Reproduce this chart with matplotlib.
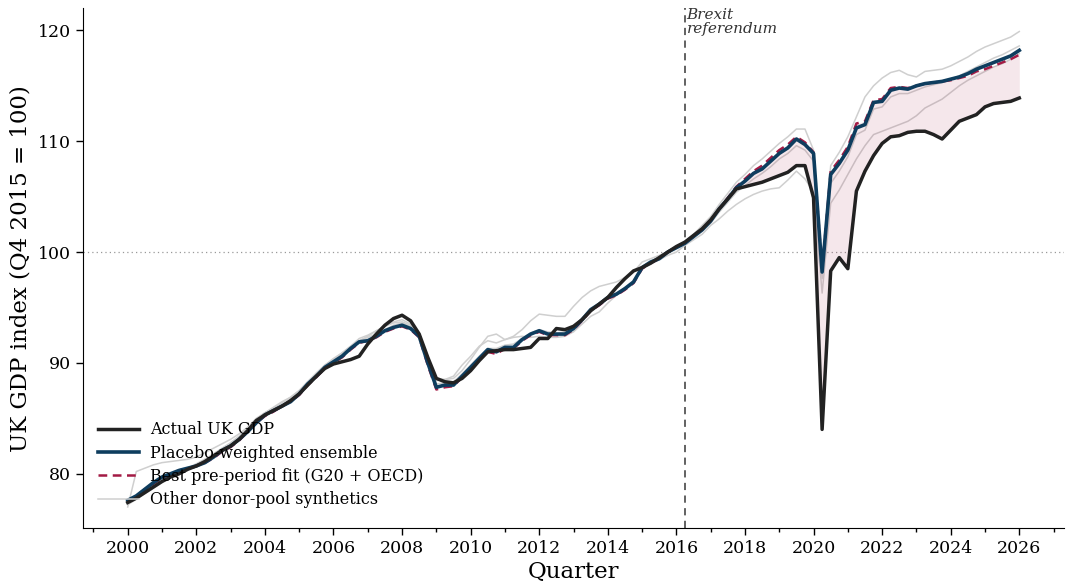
import numpy as np
import matplotlib
matplotlib.use("Agg")
import matplotlib.pyplot as plt
from matplotlib.ticker import MultipleLocator

plt.rcParams["font.family"] = ["DejaVu Serif"]

# quarterly index, Q1 2000 .. Q1 2026
start_year = 2000
brexit_q = 2016.25

actual_uk = [
    77.4, 77.8, 78.3, 78.8, 79.3, 79.7, 80.0, 80.4, 80.7, 81.1, 81.6, 82.1,
    82.5, 83.1, 83.9, 84.8, 85.3, 85.7, 86.1, 86.6, 87.2, 88.0, 88.8, 89.5,
    89.9, 90.1, 90.3, 90.6, 91.7, 92.6, 93.4, 94.0, 94.3, 93.8, 92.6, 90.5,
    88.6, 88.3, 88.2, 88.6, 89.3, 90.2, 91.0, 91.1, 91.2, 91.2, 91.3, 91.4,
    92.2, 92.2, 93.1, 93.0, 93.3, 93.9, 94.7, 95.3, 95.9, 96.8, 97.6, 98.3,
    98.6, 99.0, 99.5, 100.0, 100.5, 100.9, 101.5, 102.1, 102.9, 103.9, 104.8, 105.7,
    105.9, 106.1, 106.3, 106.6, 106.9, 107.2, 107.8, 107.8, 104.9, 84.0, 98.3, 99.5,
    98.5, 105.5, 107.3, 108.7, 109.8, 110.4, 110.5, 110.8, 110.9, 110.9, 110.6, 110.2,
    111.0, 111.8, 112.1, 112.4, 113.1, 113.4, 113.5, 113.6, 113.9,
]

ensemble = [
    77.6, 78.0, 78.6, 79.2, 79.7, 80.0, 80.3, 80.5, 80.7, 81.0, 81.5, 82.1,
    82.5, 83.1, 83.8, 84.6, 85.3, 85.7, 86.1, 86.5, 87.2, 88.1, 88.8, 89.6,
    90.1, 90.6, 91.3, 91.9, 92.0, 92.4, 92.9, 93.2, 93.4, 93.1, 92.4, 90.0,
    87.8, 88.0, 88.0, 88.8, 89.6, 90.4, 91.2, 91.0, 91.4, 91.4, 92.1, 92.6,
    92.9, 92.6, 92.6, 92.6, 93.1, 93.9, 94.8, 95.3, 95.9, 96.2, 96.7, 97.3,
    98.6, 99.1, 99.4, 100.0, 100.4, 100.8, 101.4, 102.0, 102.8, 103.9, 104.8, 105.8,
    106.4, 107.1, 107.5, 108.2, 108.9, 109.4, 110.2, 109.7, 108.9, 98.2, 107.0, 108.0,
    109.2, 111.2, 111.5, 113.5, 113.6, 114.6, 114.8, 114.7, 115.0, 115.2, 115.3, 115.4,
    115.6, 115.8, 116.1, 116.5, 116.8, 117.1, 117.4, 117.7, 118.2,
]

best_fit = [
    77.5, 78.0, 78.6, 79.1, 79.6, 80.0, 80.3, 80.5, 80.7, 81.0, 81.4, 82.0,
    82.4, 83.0, 83.8, 84.6, 85.2, 85.6, 86.1, 86.5, 87.1, 88.0, 88.7, 89.5,
    90.0, 90.5, 91.2, 91.8, 92.0, 92.3, 92.8, 93.1, 93.3, 93.0, 92.3, 89.8,
    87.6, 87.8, 87.9, 88.7, 89.5, 90.3, 91.0, 90.8, 91.3, 91.3, 92.0, 92.5,
    92.8, 92.5, 92.5, 92.5, 93.0, 93.8, 94.7, 95.2, 95.8, 96.1, 96.6, 97.2,
    98.5, 99.0, 99.4, 100.0, 100.4, 100.8, 101.4, 102.0, 102.8, 103.9, 104.9, 105.9,
    106.6, 107.3, 107.8, 108.5, 109.2, 109.7, 110.4, 109.9, 109.0, 98.4, 107.3, 108.3,
    109.5, 111.6, 111.8, 113.7, 113.8, 114.8, 114.9, 114.8, 115.0, 115.2, 115.3, 115.4,
    115.5, 115.7, 115.9, 116.3, 116.5, 116.8, 117.1, 117.4, 117.8,
]

donor_high = [
    77.0, 80.2, 80.5, 80.8, 81.0, 81.1, 81.2, 81.3, 81.5, 81.9, 82.3, 82.7,
    83.1, 83.6, 84.2, 84.9, 85.5, 86.0, 86.5, 86.9, 87.5, 88.3, 89.1, 89.8,
    90.4, 90.9, 91.5, 92.0, 92.4, 92.9, 93.3, 93.6, 93.7, 93.4, 92.6, 90.3,
    88.6, 88.5, 88.6, 89.3, 90.3, 91.4, 92.4, 92.6, 92.1, 92.4, 93.0, 93.8,
    94.4, 94.3, 94.2, 94.2, 95.1, 95.9, 96.5, 96.9, 97.1, 97.3, 97.7, 98.2,
    99.1, 99.4, 99.7, 100.0, 100.5, 100.9, 101.6, 102.4, 103.2, 104.3, 105.3, 106.3,
    107.0, 107.8, 108.4, 109.1, 109.8, 110.4, 111.1, 111.1, 109.2, 98.6, 107.8, 109.0,
    110.4, 112.2, 114.0, 115.0, 115.7, 116.2, 116.4, 116.0, 115.8, 116.3, 116.4, 116.5,
    116.8, 117.2, 117.6, 118.1, 118.5, 118.8, 119.1, 119.4, 119.9,
]

donor_low = [
    77.2, 77.7, 78.2, 78.7, 79.2, 79.7, 80.0, 80.4, 80.8, 81.3, 81.8, 82.3,
    82.8, 83.4, 84.2, 85.0, 85.5, 85.9, 86.4, 86.9, 87.5, 88.3, 89.0, 89.8,
    90.3, 90.9, 91.5, 92.2, 92.5, 92.9, 93.3, 93.7, 93.9, 93.5, 92.7, 90.6,
    88.4, 88.5, 88.8, 89.8, 90.6, 91.5, 92.0, 91.8, 92.1, 92.3, 92.4, 92.3,
    92.4, 92.3, 92.3, 92.4, 92.8, 93.5, 94.2, 94.6, 95.4, 96.1, 96.6, 97.3,
    98.5, 98.9, 99.3, 99.7, 100.0, 100.6, 101.1, 101.6, 102.4, 103.0, 103.7, 104.3,
    104.8, 105.2, 105.5, 105.7, 105.8, 106.5, 107.3, 106.6, 105.4, 96.3, 104.4, 105.6,
    107.0, 108.4, 109.6, 110.6, 110.9, 111.2, 111.5, 111.8, 112.3, 113.0, 113.4, 113.8,
    114.4, 115.0, 115.5, 115.9, 116.3, 116.7, 117.0, 117.4, 117.9,
]

donor_mid = [
    77.3, 77.9, 78.4, 78.9, 79.5, 79.9, 80.2, 80.5, 80.9, 81.3, 81.7, 82.2,
    82.7, 83.2, 83.9, 84.6, 85.2, 85.7, 86.2, 86.7, 87.3, 88.1, 88.9, 89.7,
    90.3, 90.8, 91.4, 91.9, 92.3, 92.6, 93.0, 93.4, 93.6, 93.3, 92.7, 90.3,
    88.1, 88.2, 88.3, 89.0, 89.8, 90.6, 91.3, 91.3, 91.6, 91.7, 92.2, 92.7,
    93.0, 92.8, 92.7, 92.8, 93.2, 94.0, 94.8, 95.3, 95.9, 96.3, 96.8, 97.4,
    98.6, 99.1, 99.5, 100.0, 100.4, 100.8, 101.3, 101.9, 102.6, 103.6, 104.5, 105.4,
    106.0, 106.6, 107.1, 107.7, 108.4, 108.9, 109.6, 109.2, 108.2, 97.6, 106.2, 107.3,
    108.6, 110.6, 111.0, 112.9, 113.1, 114.0, 114.3, 114.3, 114.6, 114.9, 115.1, 115.3,
    115.6, 115.9, 116.3, 116.7, 117.1, 117.5, 117.8, 118.2, 118.6,
]

donors = [donor_high, donor_low, donor_mid]

quarters = start_year + 0.25 * np.arange(len(actual_uk))
actual = np.array(actual_uk)
best = np.array(best_fit)

c_actual = "#222222"
c_ens = "#0e3d5e"
c_best = "#a31a44"
c_donor = "#cfcfcf"

fig = plt.figure(figsize=(10.66, 5.88), dpi=100)
ax = fig.add_axes([0.078, 0.102, 0.92, 0.884])

for i, d in enumerate(donors):
    ax.plot(quarters, d, color=c_donor, lw=1.1, zorder=1,
            label="Other donor-pool synthetics" if i == 0 else None)

post = quarters >= brexit_q
ax.fill_between(quarters[post], actual[post], best[post],
                color=c_best, alpha=0.1, lw=0, zorder=2)

ax.plot(quarters, best, color=c_best, lw=1.8, ls=(0, (3.5, 2.2)), zorder=3,
        label="Best pre-period fit (G20 + OECD)")
ax.plot(quarters, ensemble, color=c_ens, lw=2.6, zorder=4,
        label="Placebo-weighted ensemble")
ax.plot(quarters, actual, color=c_actual, lw=2.5, zorder=5,
        label="Actual UK GDP")

ax.axhline(100, color="#999999", lw=0.9, ls=(0, (1, 2.5)), zorder=0)
ax.axvline(brexit_q, color="#555555", lw=1.3, ls=(0, (4, 3)), zorder=0)

ax.set_ylim(75.1, 122.0)
ax.text(brexit_q + 0.05, 122.0, "Brexit\nreferendum", style="italic",
        fontsize=11, color="#333333", ha="left", va="top", linespacing=0.95)

ax.xaxis.set_major_locator(MultipleLocator(2))
ax.xaxis.set_minor_locator(MultipleLocator(1))
ax.yaxis.set_major_locator(MultipleLocator(10))
ax.tick_params(axis="both", which="major", labelsize=12.5, length=5, width=1)
ax.tick_params(axis="x", which="minor", length=3, width=1)
for s in ("top", "right"):
    ax.spines[s].set_visible(False)

ax.set_xlabel("Quarter", fontsize=16.5, labelpad=3)
ax.set_ylabel("UK GDP index (Q4 2015 = 100)", fontsize=16.5, labelpad=5)

h, l = ax.get_legend_handles_labels()
order = [l.index(k) for k in ("Actual UK GDP", "Placebo-weighted ensemble",
                              "Best pre-period fit (G20 + OECD)",
                              "Other donor-pool synthetics")]
ax.legend([h[i] for i in order], [l[i] for i in order], loc="lower left",
          frameon=False, fontsize=11.5, handlelength=2.6, labelspacing=0.4,
          handletextpad=0.7, bbox_to_anchor=(0.0, 0.01))

fig.savefig("out.png", dpi=100)
